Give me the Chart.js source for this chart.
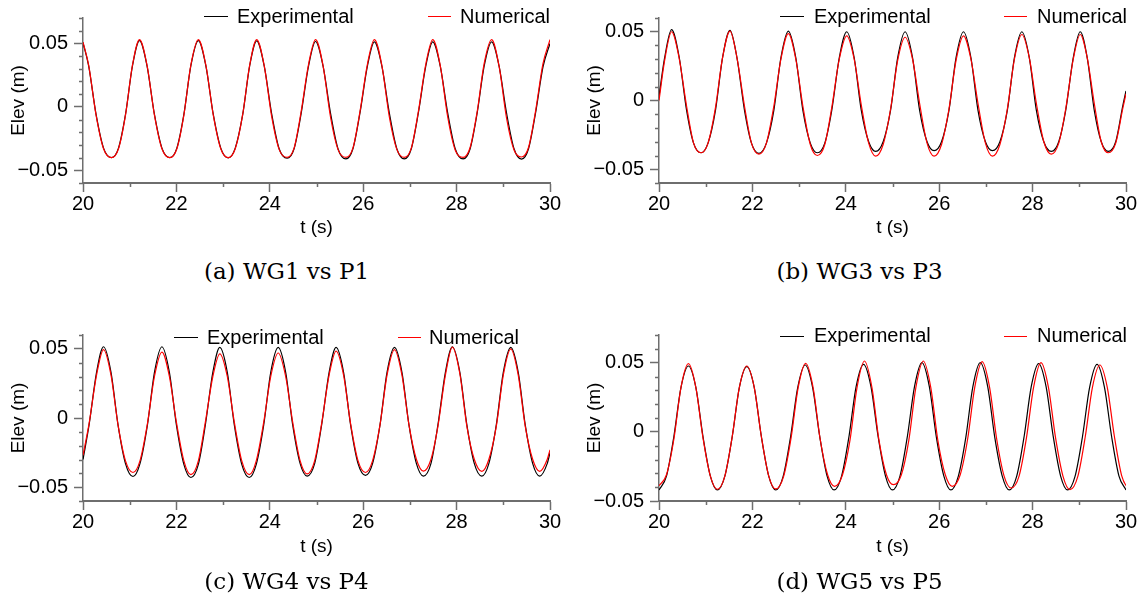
<!DOCTYPE html>
<html>
<head>
<meta charset="utf-8">
<title>WG vs P elevation</title>
<script src="https://cdn.jsdelivr.net/npm/chart.js@4.4.1/dist/chart.umd.min.js"></script>
<style>
  html, body { margin: 0; padding: 0; background: #fff; }
  #page { position: relative; width: 1146px; height: 612px; overflow: hidden; }
  canvas { position: absolute; }
  .key { position: absolute; height: 1px; }
  .lab { position: absolute; font: 20px/20px 'Liberation Sans', Arial, sans-serif; color: #000; white-space: nowrap; }
  .cap { position: absolute; width: 573px; text-align: center; font: 23px/23px 'DejaVu Serif', serif; color: #000; }
</style>
</head>
<body>
<div id="page">
  <canvas id="chartA" width="573" height="245" style="left:0;top:0"></canvas>
  <canvas id="chartB" width="573" height="245" style="left:573px;top:0"></canvas>
  <canvas id="chartC" width="573" height="262" style="left:0;top:310px"></canvas>
  <canvas id="chartD" width="573" height="262" style="left:573px;top:310px"></canvas>

  <!-- legends -->
  <div class="key" style="left:204px;top:16px;width:24px;background:#000"></div>
  <div class="lab" style="left:237px;top:6px">Experimental</div>
  <div class="key" style="left:428px;top:16px;width:23px;background:#f00"></div>
  <div class="lab" style="left:460px;top:6px">Numerical</div>

  <div class="key" style="left:780px;top:16px;width:24px;background:#000"></div>
  <div class="lab" style="left:814px;top:6px">Experimental</div>
  <div class="key" style="left:1004px;top:16px;width:23px;background:#f00"></div>
  <div class="lab" style="left:1037px;top:6px">Numerical</div>

  <div class="key" style="left:174px;top:337px;width:24px;background:#000"></div>
  <div class="lab" style="left:207px;top:327px">Experimental</div>
  <div class="key" style="left:398px;top:337px;width:23px;background:#f00"></div>
  <div class="lab" style="left:429px;top:327px">Numerical</div>

  <div class="key" style="left:780px;top:336px;width:24px;background:#000"></div>
  <div class="lab" style="left:814px;top:325px">Experimental</div>
  <div class="key" style="left:1004px;top:336px;width:23px;background:#f00"></div>
  <div class="lab" style="left:1037px;top:325px">Numerical</div>

  <!-- captions -->
  <div class="cap" style="left:0;top:260px">(a) WG1 vs P1</div>
  <div class="cap" style="left:573px;top:260px">(b) WG3 vs P3</div>
  <div class="cap" style="left:0;top:570px">(c) WG4 vs P4</div>
  <div class="cap" style="left:573px;top:570px">(d) WG5 vs P5</div>
</div>

<script>
// time (s) and surface elevation (m)

// (a) WG1 vs P1
const tA = [20.00, 20.12, 20.28, 20.44, 20.61, 20.76, 20.91, 21.06, 21.21, 21.37, 21.53, 21.69, 21.86,
  22.01, 22.16, 22.31, 22.47, 22.63, 22.79, 22.95, 23.11, 23.26, 23.42, 23.57, 23.72, 23.88, 24.04,
  24.20, 24.37, 24.52, 24.67, 24.83, 24.98, 25.14, 25.30, 25.46, 25.63, 25.78, 25.93, 26.09, 26.24,
  26.40, 26.56, 26.72, 26.88, 27.03, 27.18, 27.34, 27.49, 27.65, 27.81, 27.97, 28.14, 28.29, 28.44,
  28.59, 28.75, 28.91, 29.07, 29.23, 29.39, 29.54, 29.69, 29.85, 30.00];
const expA = [0.0505,
  0.0325, -0.006, -0.0325, -0.040, -0.0325, -0.006, 0.0325, 0.0522,
  0.0325, -0.006, -0.0325, -0.040, -0.0325, -0.006, 0.0325, 0.0522,
  0.0325, -0.006, -0.0325, -0.0402, -0.0325, -0.006, 0.0325, 0.052,
  0.0322, -0.0055, -0.033, -0.0405, -0.033, -0.0055, 0.0322, 0.0515,
  0.0322, -0.005, -0.033, -0.041, -0.033, -0.005, 0.032, 0.0512,
  0.032, -0.005, -0.033, -0.041, -0.033, -0.005, 0.032, 0.0512,
  0.032, -0.005, -0.033, -0.041, -0.033, -0.005, 0.032, 0.0512,
  0.032, -0.005, -0.033, -0.0412, -0.033, -0.005, 0.0315, 0.050];
const numA = [0.051,
  0.033, -0.0065, -0.033, -0.040, -0.033, -0.0065, 0.033, 0.053,
  0.033, -0.0065, -0.033, -0.040, -0.033, -0.0065, 0.033, 0.053,
  0.033, -0.0065, -0.033, -0.040, -0.033, -0.006, 0.033, 0.053,
  0.0325, -0.0075, -0.0335, -0.0398, -0.0325, -0.004, 0.0335, 0.053,
  0.0325, -0.008, -0.0335, -0.0398, -0.0325, -0.004, 0.0335, 0.053,
  0.0325, -0.008, -0.0335, -0.0398, -0.0325, -0.004, 0.0335, 0.053,
  0.0325, -0.008, -0.034, -0.0398, -0.032, -0.004, 0.034, 0.053,
  0.032, -0.009, -0.034, -0.0395, -0.032, -0.0035, 0.034, 0.053];

// (b) WG3 vs P3
const tB = [20.00, 20.12, 20.27, 20.43, 20.59, 20.74, 20.90, 21.05, 21.21, 21.36, 21.52, 21.67, 21.83,
  21.98, 22.14, 22.30, 22.46, 22.61, 22.77, 22.93, 23.08, 23.24, 23.39, 23.55, 23.70, 23.86, 24.02,
  24.18, 24.33, 24.49, 24.64, 24.80, 24.96, 25.11, 25.27, 25.43, 25.58, 25.74, 25.89, 26.05, 26.21,
  26.36, 26.52, 26.68, 26.83, 26.99, 27.14, 27.30, 27.46, 27.61, 27.77, 27.93, 28.08, 28.24, 28.40,
  28.56, 28.71, 28.87, 29.02, 29.17, 29.32, 29.47, 29.62, 29.78, 29.93, 30.00];
const expB = [0.003, 0.031, 0.0515,
  0.032, -0.007, -0.031, -0.038, -0.031, -0.007, 0.031, 0.051,
  0.031, -0.007, -0.031, -0.0385, -0.031, -0.007, 0.031, 0.0505,
  0.031, -0.007, -0.031, -0.038, -0.031, -0.007, 0.031, 0.050,
  0.031, -0.0068, -0.030, -0.037, -0.030, -0.0068, 0.031, 0.050,
  0.031, -0.007, -0.030, -0.0365, -0.030, -0.007, 0.031, 0.050,
  0.031, -0.007, -0.030, -0.0365, -0.030, -0.007, 0.031, 0.050,
  0.031, -0.007, -0.030, -0.037, -0.030, -0.007, 0.031, 0.050,
  0.031, -0.007, -0.030, -0.037, -0.030, -0.004, 0.007];
const numB = [0.000, 0.029, 0.050,
  0.031, -0.004, -0.031, -0.038, -0.031, -0.005, 0.031, 0.0505,
  0.031, -0.004, -0.031, -0.039, -0.031, -0.004, 0.030, 0.0486,
  0.030, -0.004, -0.032, -0.040, -0.032, -0.005, 0.030, 0.047,
  0.030, -0.003, -0.031, -0.0405, -0.032, -0.006, 0.029, 0.046,
  0.030, -0.002, -0.031, -0.0405, -0.032, -0.006, 0.029, 0.047,
  0.030, -0.002, -0.031, -0.0405, -0.032, -0.006, 0.030, 0.048,
  0.031, -0.002, -0.030, -0.039, -0.031, -0.006, 0.030, 0.048,
  0.031, -0.002, -0.030, -0.038, -0.031, -0.006, 0.005];

// (c) WG4 vs P4
const tC = [20.00, 20.13, 20.29, 20.44, 20.60, 20.75, 20.91, 21.07, 21.22, 21.38, 21.53, 21.69, 21.85,
  22.00, 22.16, 22.31, 22.47, 22.62, 22.78, 22.93, 23.09, 23.24, 23.40, 23.56, 23.71, 23.87, 24.02,
  24.18, 24.34, 24.49, 24.65, 24.80, 24.96, 25.11, 25.27, 25.42, 25.58, 25.73, 25.89, 26.05, 26.20,
  26.36, 26.51, 26.67, 26.83, 26.98, 27.14, 27.29, 27.45, 27.60, 27.76, 27.91, 28.07, 28.22, 28.38,
  28.54, 28.69, 28.85, 29.00, 29.16, 29.32, 29.47, 29.63, 29.78, 29.94, 30.00];
const expC = [-0.030, -0.005, 0.033, 0.0515,
  0.033, -0.005, -0.033, -0.0423, -0.033, -0.005, 0.033, 0.0515,
  0.033, -0.005, -0.0335, -0.043, -0.0335, -0.005, 0.033, 0.051,
  0.033, -0.005, -0.0335, -0.043, -0.0335, -0.005, 0.033, 0.051,
  0.033, -0.005, -0.033, -0.042, -0.033, -0.005, 0.033, 0.051,
  0.033, -0.005, -0.033, -0.0415, -0.033, -0.005, 0.033, 0.051,
  0.033, -0.005, -0.033, -0.042, -0.033, -0.005, 0.033, 0.0515,
  0.033, -0.005, -0.033, -0.042, -0.033, -0.005, 0.033, 0.051,
  0.033, -0.005, -0.033, -0.042, -0.033, -0.025];
const numC = [-0.027, -0.004, 0.031, 0.0495,
  0.031, -0.005, -0.031, -0.0394, -0.031, -0.004, 0.030, 0.0476,
  0.030, -0.003, -0.031, -0.041, -0.031, -0.003, 0.030, 0.0464,
  0.030, -0.003, -0.031, -0.041, -0.031, -0.003, 0.030, 0.047,
  0.030, -0.003, -0.031, -0.0404, -0.031, -0.004, 0.031, 0.0484,
  0.031, -0.004, -0.031, -0.0394, -0.031, -0.005, 0.031, 0.0495,
  0.031, -0.005, -0.030, -0.0384, -0.030, -0.006, 0.031, 0.0513,
  0.032, -0.006, -0.030, -0.0386, -0.030, -0.006, 0.031, 0.050,
  0.031, -0.006, -0.030, -0.0386, -0.030, -0.023];

// (d) WG5 vs P5 (the numerical trace drifts slightly late, so it has its own times)
const tD = [20.00, 20.16, 20.32, 20.47, 20.63, 20.79, 20.94, 21.10, 21.25, 21.41, 21.57, 21.72, 21.88,
  22.04, 22.19, 22.35, 22.50, 22.66, 22.82, 22.97, 23.13, 23.29, 23.44, 23.60, 23.75, 23.91, 24.07,
  24.22, 24.38, 24.54, 24.69, 24.85, 25.00, 25.16, 25.32, 25.47, 25.63, 25.79, 25.94, 26.10, 26.25,
  26.41, 26.57, 26.72, 26.88, 27.04, 27.19, 27.35, 27.50, 27.66, 27.82, 27.97, 28.13, 28.29, 28.44,
  28.60, 28.75, 28.91, 29.07, 29.22, 29.38, 29.54, 29.69, 29.85, 30.00];
const expD = [-0.042,
  -0.032, -0.003, 0.032, 0.0476, 0.032, -0.003, -0.032, -0.042,
  -0.032, -0.003, 0.032, 0.0471, 0.032, -0.003, -0.032, -0.042,
  -0.032, -0.003, 0.032, 0.0483, 0.032, -0.003, -0.032, -0.042,
  -0.032, -0.003, 0.0325, 0.0488, 0.0325, -0.003, -0.032, -0.042,
  -0.032, -0.003, 0.0325, 0.050, 0.0325, -0.004, -0.032, -0.042,
  -0.032, -0.004, 0.0325, 0.050, 0.0325, -0.004, -0.032, -0.042,
  -0.032, -0.003, 0.0325, 0.0493, 0.0325, -0.003, -0.032, -0.042,
  -0.032, -0.003, 0.032, 0.0488, 0.032, -0.003, -0.032, -0.042];
const tDn = [20.00, 20.16, 20.32, 20.47, 20.63, 20.79, 20.94, 21.10, 21.25, 21.41, 21.57, 21.72, 21.88,
  22.04, 22.19, 22.35, 22.50, 22.67, 22.83, 22.98, 23.14, 23.30, 23.45, 23.61, 23.76, 23.93, 24.09,
  24.24, 24.40, 24.56, 24.71, 24.87, 25.02, 25.19, 25.35, 25.50, 25.66, 25.82, 25.97, 26.13, 26.28,
  26.45, 26.61, 26.76, 26.92, 27.08, 27.23, 27.39, 27.54, 27.71, 27.87, 28.02, 28.18, 28.34, 28.49,
  28.65, 28.80, 28.97, 29.13, 29.28, 29.44, 29.60, 29.75, 29.91, 30.06];
const numD = [-0.039,
  -0.031, -0.005, 0.032, 0.0493, 0.032, -0.004, -0.032, -0.0415,
  -0.032, -0.003, 0.032, 0.0476, 0.032, -0.003, -0.032, -0.0413,
  -0.032, -0.004, 0.032, 0.0495, 0.032, -0.005, -0.031, -0.0394,
  -0.031, -0.006, 0.032, 0.0512, 0.032, -0.006, -0.031, -0.0382,
  -0.031, -0.006, 0.032, 0.0512, 0.032, -0.006, -0.031, -0.0394,
  -0.031, -0.005, 0.032, 0.0507, 0.032, -0.005, -0.032, -0.0406,
  -0.032, -0.004, 0.032, 0.050, 0.032, -0.004, -0.032, -0.0418,
  -0.032, -0.003, 0.032, 0.0483, 0.032, -0.003, -0.032, -0.042];

// axis ticks
const xMinor = [21, 23, 25, 27, 29];
const yMinorA = [-0.06, -0.04, -0.03, -0.02, -0.01, 0.01, 0.02, 0.03, 0.04, 0.06, 0.07];
const yMinorB = [-0.06, -0.04, -0.03, -0.02, -0.01, 0.01, 0.02, 0.03, 0.04, 0.06];
const yMinorD = [-0.04, -0.03, -0.02, -0.01, 0.01, 0.02, 0.03, 0.04, 0.06, 0.07];

Chart.defaults.font.family = "'Liberation Sans', Arial, sans-serif";
Chart.defaults.color = '#000';

const AXIS = '#6e6e6e';

function pts(t, v) {
  if (t.length !== v.length) throw new Error('length mismatch: ' + t.length + ' times, ' + v.length + ' values');
  return t.map((x, i) => ({ x: x, y: v[i] }));
}

function elevLabel(v) {
  if (Math.abs(v) < 1e-9) return '0';
  return (v < 0 ? '\u2212' : '') + Math.abs(v).toFixed(2);
}

// short unlabelled ticks between the labelled ones
const minorTicks = {
  id: 'minorTicks',
  afterDraw(chart, args, opts) {
    const { ctx, chartArea } = chart;
    const xs = chart.scales.x, ys = chart.scales.y;
    ctx.save();
    ctx.strokeStyle = AXIS;
    ctx.lineWidth = 1.5;
    ctx.beginPath();
    opts.x.forEach(v => {
      const px = Math.round(xs.getPixelForValue(v)) + 0.5;
      ctx.moveTo(px, chartArea.bottom);
      ctx.lineTo(px, chartArea.bottom + 4);
    });
    opts.y.forEach(v => {
      const py = Math.round(ys.getPixelForValue(v)) + 0.5;
      ctx.moveTo(chartArea.left, py);
      ctx.lineTo(chartArea.left - 4, py);
    });
    ctx.stroke();
    ctx.restore();
  }
};

function makeChart(id, te, ve, tn, vn, p) {
  new Chart(document.getElementById(id), {
    type: 'line',
    data: {
      datasets: [
        { label: 'Numerical', data: pts(tn, vn), borderColor: '#ff0000', borderWidth: 1.2, order: 0 },
        { label: 'Experimental', data: pts(te, ve), borderColor: '#000000', borderWidth: 1.2, order: 1 }
      ]
    },
    options: {
      responsive: false,
      animation: false,
      devicePixelRatio: 1,
      layout: { padding: { left: 0, top: p.top, right: p.right, bottom: 0 } },
      elements: {
        point: { radius: 0 },
        line: { cubicInterpolationMode: 'monotone', fill: false }
      },
      plugins: {
        legend: { display: false },
        tooltip: { enabled: false },
        minorTicks: { x: xMinor, y: p.yMinor }
      },
      scales: {
        x: {
          type: 'linear',
          min: 20,
          max: 30,
          ticks: { stepSize: 2, padding: 0, font: { size: 20 } },
          grid: { drawOnChartArea: false, tickLength: 9, tickColor: AXIS, tickWidth: 1.5 },
          border: { color: AXIS, width: 2 },
          title: { display: true, text: 't (s)', font: { size: 19 }, padding: { top: 0, bottom: p.xTitle } },
          afterFit: s => { s.height = p.xh; }
        },
        y: {
          min: p.min,
          max: p.max,
          ticks: { stepSize: 0.05, includeBounds: false, padding: 6, font: { size: 20 }, callback: elevLabel },
          grid: { drawOnChartArea: false, tickLength: 9, tickColor: AXIS, tickWidth: 1.5 },
          border: { color: AXIS, width: 1.5 },
          title: { display: true, text: 'Elev (m)', font: { size: 19 }, padding: { top: p.yTitle, bottom: 0 } },
          afterFit: s => { s.width = p.yw; }
        }
      }
    },
    plugins: [minorTicks]
  });
}

makeChart('chartA', tA, expA, tA, numA,
  { top: 16, right: 23, yw: 83, xh: 62, yTitle: 7, xTitle: 6, min: -0.06, max: 0.07, yMinor: yMinorA });
makeChart('chartB', tB, expB, tB, numB,
  { top: 16, right: 20, yw: 86, xh: 62, yTitle: 10, xTitle: 6, min: -0.06, max: 0.06, yMinor: yMinorB });
makeChart('chartC', tC, expC, tC, numC,
  { top: 25, right: 23, yw: 83, xh: 71, yTitle: 7, xTitle: 14, min: -0.06, max: 0.06, yMinor: yMinorB });
makeChart('chartD', tD, expD, tDn, numD,
  { top: 25, right: 20, yw: 86, xh: 71, yTitle: 10, xTitle: 14, min: -0.05, max: 0.07, yMinor: yMinorD });
</script>
</body>
</html>
